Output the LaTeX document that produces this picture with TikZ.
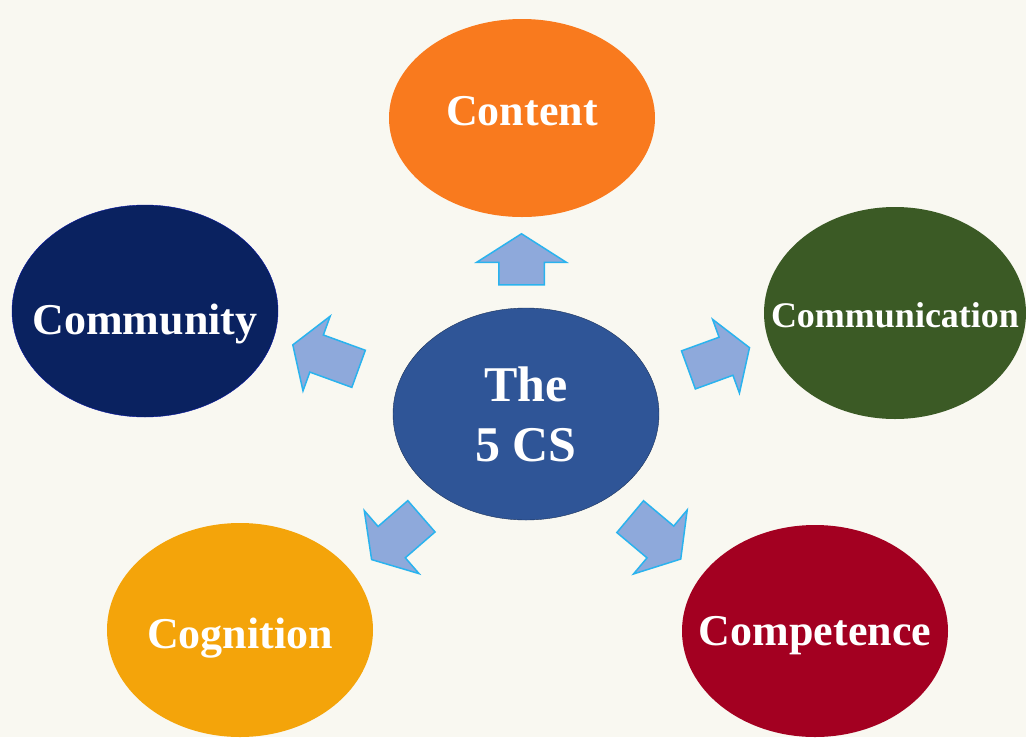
\documentclass[tikz,border=0pt]{standalone}
\usepackage{fontspec}
\setmainfont{Liberation Serif}
\usetikzlibrary{shapes.geometric,shapes.arrows}
\definecolor{bgcol}{HTML}{F9F8F1}
\definecolor{contentcol}{HTML}{F97A1E}
\definecolor{communitycol}{HTML}{0A2260}
\definecolor{communicationcol}{HTML}{3B5A25}
\definecolor{centercol}{HTML}{2F5597}
\definecolor{cognitioncol}{HTML}{F4A40A}
\definecolor{competencecol}{HTML}{A30021}
\definecolor{arrowfill}{HTML}{8EA9DB}
\definecolor{arrowline}{HTML}{2AB3EE}
\begin{document}
\begin{tikzpicture}[
			x=1pt, y=-1pt,
			blobshape/.style={ellipse, minimum width=266pt, minimum height=212pt, inner sep=0pt, text=white},
			blob/.style={blobshape, text height=29pt, text depth=0pt,
				font=\bfseries\fontsize{44}{50}\selectfont},
			blockarrow/.style={single arrow, fill=arrowfill, draw=arrowline, line width=1.5pt,
				inner xsep=0pt, inner ysep=20pt, single arrow head extend=20pt,
				single arrow tip angle=115, minimum height=66pt}
			]
			\fill[bgcol] (0,0) rectangle (1026,737);
			\useasboundingbox (0,0) rectangle (1026,737);
			% the five circles round the middle
			\node[blob, fill=contentcol, minimum height=198pt] (content) at (522,118) {\makebox[0pt]{\raisebox{7pt}{Content}}};
			\node[blob, fill=communitycol, draw=blue!40!communitycol] (community) at (145,311) {\makebox[0pt]{\raisebox{-9pt}{Community}}};
			\node[blob, fill=communicationcol, minimum width=262pt, font=\bfseries\fontsize{36}{40}\selectfont] (communication) at (895,313) {\makebox[0pt]{Communication}};
			\node[blob, fill=cognitioncol, minimum height=214pt] (cognition) at (240,630) {\makebox[0pt]{\raisebox{-4pt}{Cognition}}};
			\node[blob, fill=competencecol] (competence) at (815,631) {\makebox[0pt]{Competence}};
			\node[blobshape, fill=centercol, draw=centercol!60!black, align=center,
				font=\bfseries\fontsize{50}{60}\selectfont] (fivecs) at (526,414) {The\\5 CS};
			% arrows pointing outwards
			\node[blockarrow, rotate=90, minimum height=51pt, inner ysep=22pt, single arrow head extend=22pt] (tocontent) at (521.5,266.5) {};
			\node[blockarrow, rotate=160, minimum height=70pt, inner ysep=19pt] (tocommunity) at (331.6,359) {};
			\node[blockarrow, rotate=20, minimum height=65pt, inner ysep=19.5pt, single arrow head extend=19pt] (tocommunication) at (712.9,361) {};
			\node[blockarrow, rotate=221, single arrow head extend=21pt] (tocognition) at (401.5,533.6) {};
			\node[blockarrow, rotate=-40, single arrow head extend=21pt] (tocompetence) at (650.4,533.6) {};
		\end{tikzpicture}
\end{document}
